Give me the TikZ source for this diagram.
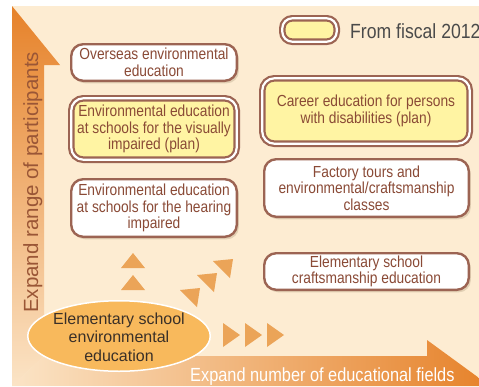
\documentclass[tikz,border=0pt]{standalone}
\usepackage{fontspec}
\setmainfont{Liberation Sans}
\newfontfamily\narrowfont[FakeStretch=0.86]{Liberation Sans}
\usepackage{tikz}
\usetikzlibrary{shapes.geometric,shadows}

\definecolor{bgpeach}{HTML}{FDECD2}
\definecolor{boxline}{HTML}{9C6453}
\definecolor{boxtext}{HTML}{8A4A36}
\definecolor{planfill}{HTML}{FFF4A3}
\definecolor{arroworange}{HTML}{E6822A}
\definecolor{arrowlight}{HTML}{FBE4C6}
\definecolor{tricolor}{HTML}{EBA458}
\definecolor{ellfill}{HTML}{F8B95C}
\definecolor{elltext}{HTML}{3A3028}
\definecolor{shadowc}{HTML}{E2D0B4}
\definecolor{labelbrown}{HTML}{9A5636}
\definecolor{legendgray}{HTML}{4A4A4A}

\tikzset{
  fieldbox/.style={draw=boxline, line width=2.4pt, fill=white, rounded corners=12pt,
    inner sep=0pt, align=center, text=boxtext,
    font=\narrowfont\fontsize{16}{16.5}\selectfont,
    drop shadow={shadow xshift=2pt, shadow yshift=-2.5pt, opacity=1, fill=shadowc}},
  planbox/.style={fieldbox, fill=planfill, double=white, double distance=2.2pt, line width=2.2pt}
}

\begin{document}
\begin{tikzpicture}[x=1pt, y=-1pt]

  \useasboundingbox (0,0) rectangle (479,386);
  \fill [white] (0,0) rectangle (479,386);

  % Background
  \fill [bgpeach] (12,6) rectangle (479,386);

  % Axis arrows
  \shade [top color=arroworange, bottom color=arrowlight]
    (12,6) -- (60,65) -- (44,65) -- (44,356) -- (12,386) -- cycle;
  \shade [left color=arrowlight, right color=arroworange]
    (12,386) -- (44,356) -- (427,356) -- (427,340) -- (490,386) -- cycle;

  % Axis labels
  \node (ylab) at (38,313) [rotate=90, anchor=base west, inner sep=0pt, text=labelbrown,
    font=\fontsize{20.5}{24}\selectfont] {Expand range of participants};
  \node (xlab) at (190,381) [anchor=base west, inner sep=0pt, text=white,
    font=\narrowfont\fontsize{19}{22}\selectfont] {Expand number of educational fields};

  % Legend
  \node (legbox) at (309.5,30) [planbox, rounded corners=10pt, minimum width=54.4pt, minimum height=23.4pt] {};
  \node (legtext) at (350,38) [anchor=base west, inner sep=0pt, text=legendgray,
    font=\narrowfont\fontsize{20.5}{22}\selectfont] {From fiscal 2012};

  % Starting point
  \draw [fill=ellfill, draw=white, line width=1.5pt] (119,336) ellipse [x radius=91.25pt, y radius=35.25pt];
  \node (elem) at (119,337) [align=center, inner sep=0pt, text=elltext,
    font=\fontsize{16}{18.5}\selectfont] {Elementary school\\environmental\\education};

  % Participant range (left column)
  \node (over) at (154,62.5) [fieldbox, minimum width=165.6pt, minimum height=36.6pt]
    {Overseas environmental\\education};
  \node (visual) at (154,129) [planbox, minimum width=165.4pt, minimum height=61.4pt]
    {Environmental education\\at schools for the visually\\impaired (plan)};
  \node (hearing) at (154,208) [fieldbox, minimum width=165.6pt, minimum height=57.6pt]
    {Environmental education\\at schools for the hearing\\impaired};

  % Educational fields (right column)
  \node (career) at (366,111) [planbox, minimum width=207.4pt, minimum height=65.4pt]
    {Career education for persons\\with disabilities (plan)};
  \node (factory) at (366.5,188) [fieldbox, minimum width=204.6pt, minimum height=57.6pt]
    {Factory tours and\\environmental/craftsmanship\\classes};
  \node (craft) at (366.5,271.5) [fieldbox, minimum width=204.6pt, minimum height=36.6pt]
    {Elementary school\\craftsmanship education};

  % Direction marks
  \foreach \ty in {253,275} {
    \fill [tricolor] (121,\ty+15) -- (145,\ty+15) -- (133,\ty) -- cycle;
  }
  \foreach \tx/\ty in {180/290, 197/275, 213/261} {
    \fill [tricolor] (\tx,\ty) -- (\tx+20,\ty-2) -- (\tx+17,\ty+17) -- cycle;
  }
  \foreach \tx in {223,245,267} {
    \fill [tricolor] (\tx,323) -- (\tx+17,335) -- (\tx,347) -- cycle;
  }

\end{tikzpicture}
\end{document}
